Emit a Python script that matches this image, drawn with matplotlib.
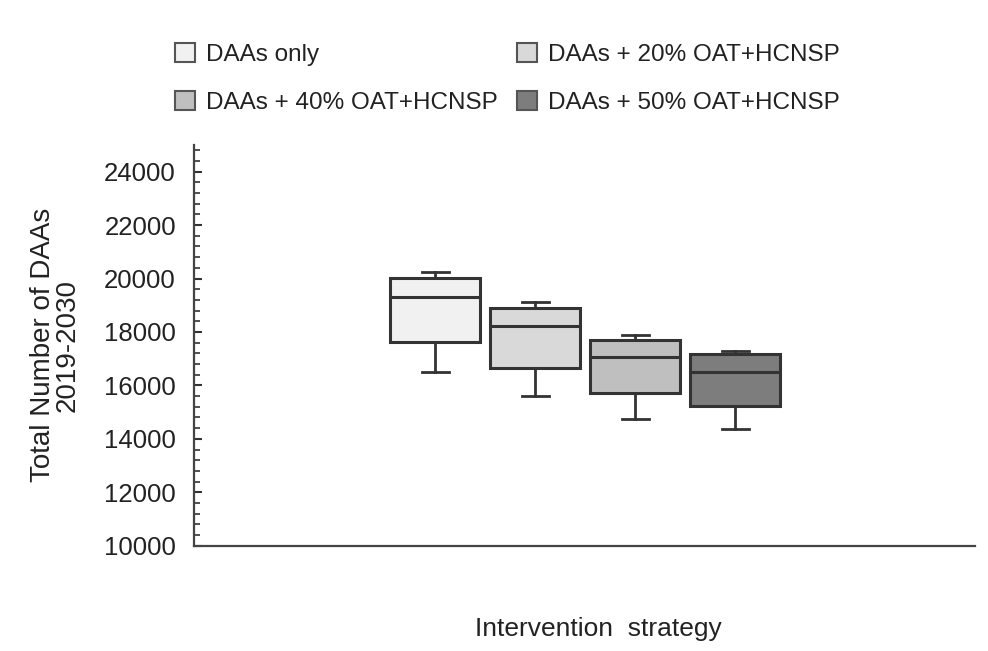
import matplotlib
matplotlib.use("Agg")
import matplotlib.pyplot as plt
from matplotlib.patches import Patch
from matplotlib.ticker import MultipleLocator

plt.rcParams['font.family'] = ['Liberation Sans', 'DejaVu Sans']

# box summaries
labels = ['DAAs only', 'DAAs + 20% OAT+HCNSP', 'DAAs + 40% OAT+HCNSP', 'DAAs + 50% OAT+HCNSP']
whisker_low = [16490, 15615, 14755, 14360]
q1 = [17615, 16640, 15730, 15230]
median = [19320, 18225, 17050, 16515]
q3 = [20010, 18890, 17700, 17180]
whisker_high = [20235, 19135, 17890, 17290]
fills = ['#f1f1f1', '#d9d9d9', '#bfbfbf', '#7d7d7d']

edge = '#333333'

stats = []
for i in range(len(labels)):
    stats.append({'label': labels[i], 'whislo': whisker_low[i], 'q1': q1[i],
                  'med': median[i], 'q3': q3[i], 'whishi': whisker_high[i], 'fliers': []})

fig = plt.figure(figsize=(9.88, 6.51), dpi=100)
ax = fig.add_axes([0.1964, 0.1618, 0.7905, 0.6155])

positions = [1, 2, 3, 4]
bp = ax.bxp(stats, positions=positions, widths=0.9, patch_artist=True, showfliers=False,
            capwidths=0.27,
            boxprops=dict(edgecolor=edge, linewidth=2.2),
            medianprops=dict(color=edge, linewidth=2.2),
            whiskerprops=dict(color=edge, linewidth=2.0),
            capprops=dict(color=edge, linewidth=2.0))
for patch, c in zip(bp['boxes'], fills):
    patch.set_facecolor(c)

ax.set_xlim(-1.41, 6.395)
ax.set_ylim(10000, 25000)
ax.set_xticks([])
ax.yaxis.set_minor_locator(MultipleLocator(400))
ax.set_yticks(range(10000, 24001, 2000))
ax.tick_params(axis='y', which='major', direction='in', length=6, width=1.5,
               color=edge, labelsize=18.5, pad=13, labelcolor='#222222')
ax.tick_params(axis='y', which='minor', direction='in', length=4, width=1.2, color=edge)

for s in ['top', 'right']:
    ax.spines[s].set_visible(False)
for s in ['left', 'bottom']:
    ax.spines[s].set_color('#444444')
    ax.spines[s].set_linewidth(1.6)

ax.set_ylabel('Total Number of DAAs\n2019-2030', fontsize=20, linespacing=0.95, color='#222222')
ax.yaxis.set_label_coords(-0.145, 0.5)
ax.set_xlabel('Intervention  strategy', fontsize=19, color='#222222', va='top')
ax.xaxis.set_label_coords(0.518, -0.178)

# legend fills row by row in the reference
order = [0, 2, 1, 3]
handles = [Patch(facecolor=fills[i], edgecolor='#555555', linewidth=1.5) for i in order]
fig.legend(handles, [labels[i] for i in order], ncol=2, loc='upper left',
           bbox_to_anchor=(175 / 988, 1 - 43 / 651),
           frameon=False, fontsize=17.5, borderpad=0, borderaxespad=0,
           handlelength=0.82, handleheight=0.82, handletextpad=0.45,
           columnspacing=0.8, labelspacing=1.05, labelcolor='#222222')

fig.savefig('out.png', dpi=100)
